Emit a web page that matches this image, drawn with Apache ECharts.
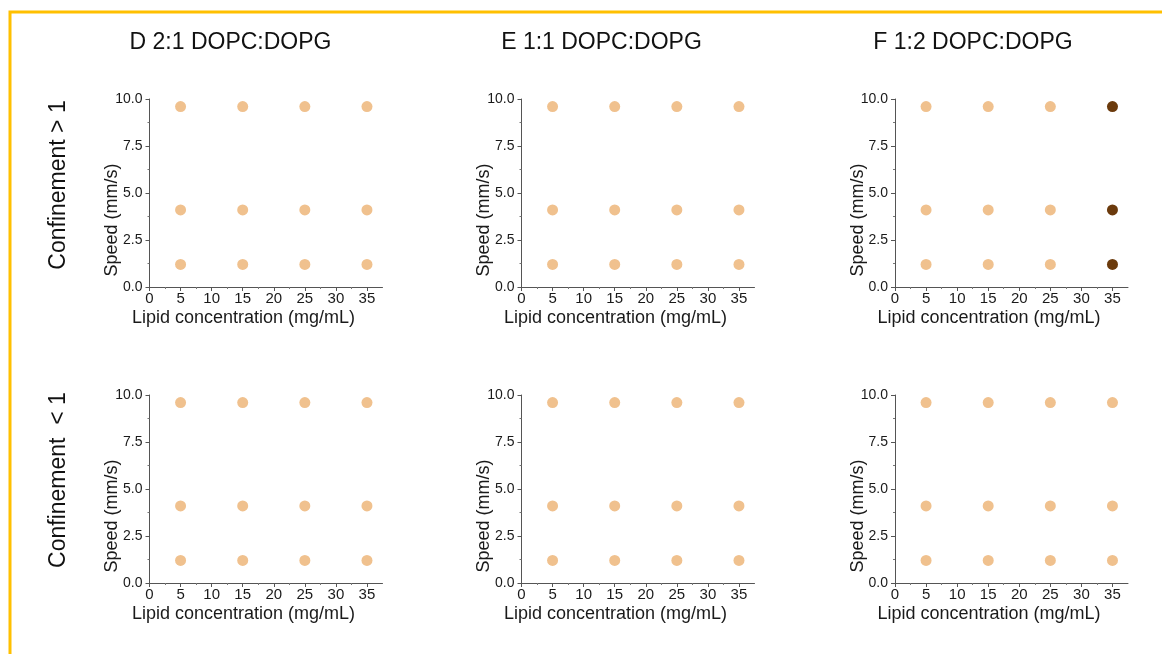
<!DOCTYPE html>
<html>
<head>
<meta charset="utf-8">
<script src="https://cdn.jsdelivr.net/npm/echarts@6/dist/echarts.min.js"></script>
<style>
html,body{margin:0;padding:0;background:#fff;}
#chart{width:1162px;height:654px;}
</style>
</head>
<body>
<div id="chart"></div>
<script>
// ---- data ----
const columnTitles = ['D 2:1 DOPC:DOPG', 'E 1:1 DOPC:DOPG', 'F 1:2 DOPC:DOPG'];
const rowTitles = ['Confinement > 1', 'Confinement  < 1'];
const xAxisTitle = 'Lipid concentration (mg/mL)';
const yAxisTitle = 'Speed (mm/s)';
const lipidConc = [5, 15, 25, 35];          // mg/mL
const speedLevels = [9.6, 4.1, 1.2];       // mm/s
const xTicks = [0, 5, 10, 15, 20, 25, 30, 35];
const yTicks = [0.0, 2.5, 5.0, 7.5, 10.0];
// state per panel: rows = speedLevels, cols = lipidConc; 1 = dark marker
const stateD_top = [[0,0,0,0],[0,0,0,0],[0,0,0,0]];
const stateE_top = [[0,0,0,0],[0,0,0,0],[0,0,0,0]];
const stateF_top = [[0,0,0,1],[0,0,0,1],[0,0,0,1]];
const stateD_bot = [[0,0,0,0],[0,0,0,0],[0,0,0,0]];
const stateE_bot = [[0,0,0,0],[0,0,0,0],[0,0,0,0]];
const stateF_bot = [[0,0,0,0],[0,0,0,0],[0,0,0,0]];
const panelStates = [stateD_top, stateE_top, stateF_top, stateD_bot, stateE_bot, stateF_bot];

// ---- layout ----
const LIGHT = '#F0C18E';
const DARK = '#6B3A0C';
const gridLefts = [149.5, 521.5, 895];
const gridTops = [99, 395];
const gridW = 233;
const gridH = 188;
const font = 'Liberation Sans, Arial, sans-serif';

const grids = [], xAxes = [], yAxes = [], series = [];
panelStates.forEach((st, i) => {
  const r = Math.floor(i / 3), c = i % 3;
  grids.push({left: gridLefts[c], top: gridTops[r], width: gridW, height: gridH});
  xAxes.push({
    gridIndex: i, type: 'value', min: 0, max: 37.5, interval: 5,
    name: xAxisTitle, nameLocation: 'middle', nameGap: 22, nameMoveOverlap: false,
    nameTextStyle: {fontFamily: font, fontSize: 18, color: '#1a1a1a', padding: [0, 45, 0, 0]},
    axisLine: {show: true, onZero: false, lineStyle: {color: '#555', width: 1}},
    axisTick: {show: true, length: 4, lineStyle: {color: '#555'},
      customValues: xTicks},
    minorTick: {show: true, splitNumber: 2, length: 2, lineStyle: {color: '#777'}},
    axisLabel: {fontFamily: font, fontSize: 15, color: '#1a1a1a', margin: 4,
      customValues: xTicks, formatter: v => String(v)},
    splitLine: {show: false}
  });
  yAxes.push({
    gridIndex: i, type: 'value', min: 0, max: 10, interval: 2.5,
    name: yAxisTitle, nameLocation: 'middle', nameGap: 28, nameMoveOverlap: false,
    nameTextStyle: {fontFamily: font, fontSize: 18, color: '#1a1a1a', padding: [0, 54, 0, 0]},
    axisLine: {show: true, onZero: false, lineStyle: {color: '#555', width: 1}},
    axisTick: {show: true, length: 4, lineStyle: {color: '#555'}},
    minorTick: {show: true, splitNumber: 2, length: 2, lineStyle: {color: '#777'}},
    axisLabel: {fontFamily: font, fontSize: 14, color: '#1a1a1a', margin: 7,
      formatter: v => v.toFixed(1)},
    splitLine: {show: false}
  });
  const light = [], dark = [];
  speedLevels.forEach((s, ri) => lipidConc.forEach((x, ci) => {
    (st[ri][ci] ? dark : light).push([x, s]);
  }));
  series.push({type: 'scatter', xAxisIndex: i, yAxisIndex: i, data: light,
    symbolSize: 11, itemStyle: {color: LIGHT, opacity: 1}, silent: true});
  series.push({type: 'scatter', xAxisIndex: i, yAxisIndex: i, data: dark,
    symbolSize: 11, itemStyle: {color: DARK, opacity: 1}, silent: true});
});

const titleCenters = [225.5, 596.5, 968];
const titles = columnTitles.map((t, c) => ({
  text: t, left: titleCenters[c], top: 26, textAlign: 'center',
  textStyle: {fontFamily: font, fontSize: 23, fontWeight: 'normal', color: '#111'}
}));

const graphics = [
  {type: 'rect', shape: {x: 10, y: 12, width: 1200, height: 700}, silent: true,
   style: {fill: 'none', stroke: '#FFC000', lineWidth: 3}, z: -1},
  {type: 'text', x: 59, y: 185, rotation: Math.PI / 2,
   style: {text: rowTitles[0], font: '23px ' + font, fill: '#111', align: 'center', verticalAlign: 'middle'}},
  {type: 'text', x: 59, y: 480, rotation: Math.PI / 2,
   style: {text: rowTitles[1], font: '23px ' + font, fill: '#111', align: 'center', verticalAlign: 'middle'}}
];

const chart = echarts.init(document.getElementById('chart'), null, {renderer: 'canvas'});
chart.setOption({
  backgroundColor: '#fff',
  animation: false,
  title: titles,
  grid: grids, xAxis: xAxes, yAxis: yAxes, series: series,
  graphic: graphics
});
</script>
</body>
</html>
